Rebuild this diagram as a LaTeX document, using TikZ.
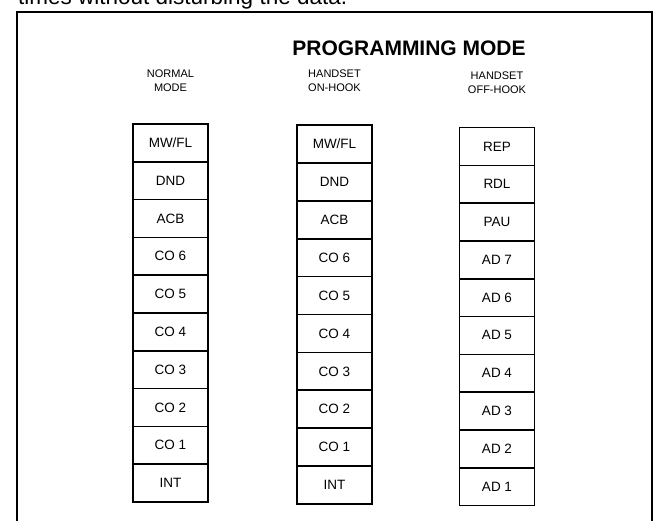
\documentclass[tikz,border=0pt]{standalone}
\usepackage{fontspec}
\setmainfont{Liberation Sans}
\begin{document}
\begin{tikzpicture}[x=1pt,y=1pt,
  keybox/.style={draw,line width=1.6pt,minimum width=75pt,minimum height=37.8pt,inner sep=0pt,font=\fontsize{13.5}{15}\selectfont},
  colhead/.style={align=center,font=\fontsize{11}{14}\selectfont},
  frameline/.style={line width=2.6pt}]
\useasboundingbox (0,0) rectangle (656,-520);
\clip (0,0) rectangle (656,-520);
% cut-off line of text above the frame
\node[anchor=base west,inner sep=0pt,font=\fontsize{22.5}{24}\selectfont] (toptext) at (18,-4) {times without disturbing the data.};
% frame
\coordinate (fbl) at (17,-530);
\coordinate (ftl) at (17,-12);
\coordinate (ftr) at (652,-12);
\coordinate (fbr) at (652,-530);
\draw[frameline] (fbl) -- (ftl) -- (ftr) -- (fbr);
% title
\node[font=\bfseries\fontsize{21}{23}\selectfont,inner sep=0pt] (title) at (409,-48) {PROGRAMMING MODE};
% column headers
\node[colhead] (hn) at (170.5,-81) {NORMAL\\MODE};
\node[colhead] (hon) at (334.5,-81) {HANDSET\\ON-HOOK};
\node[colhead] (hoff) at (497,-83) {HANDSET\\OFF-HOOK};
% columns
\foreach \t [count=\i] in {MW/FL,DND,ACB,CO 6,CO 5,CO 4,CO 3,CO 2,CO 1,INT}
  \node[keybox] (n\i) at (170.5,{-124-37.8*(\i-0.5)}) {\t};
\foreach \t [count=\i] in {MW/FL,DND,ACB,CO 6,CO 5,CO 4,CO 3,CO 2,CO 1,INT}
  \node[keybox] (h\i) at (334.5,{-125-37.9*(\i-0.5)}) {\t};
\foreach \t [count=\i] in {REP,RDL,PAU,AD 7,AD 6,AD 5,AD 4,AD 3,AD 2,AD 1}
  \node[keybox] (o\i) at (497,{-127.5-37.8*(\i-0.5)}) {\t};
\end{tikzpicture}
\end{document}
